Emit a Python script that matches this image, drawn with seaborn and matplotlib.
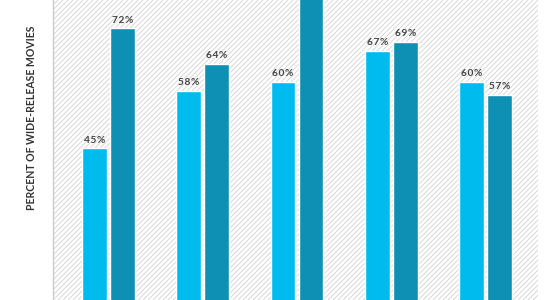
import matplotlib
matplotlib.use("Agg")
import matplotlib.pyplot as plt
import seaborn as sns
import pandas as pd
import numpy as np
from matplotlib.collections import LineCollection

categories = ["Group 1", "Group 2", "Group 3", "Group 4", "Group 5"]
series_a = [45, 58, 60, 67, 60]
series_b = [72, 64, 82, 69, 57]
series_names = ["Series A", "Series B"]
ylabel = "PERCENT OF WIDE-RELEASE MOVIES"

df = pd.DataFrame({
    "category": categories * 2,
    "value": series_a + series_b,
    "series": [series_names[0]] * len(categories) + [series_names[1]] * len(categories),
})

sns.set_theme(style="white")
plt.rcParams["font.family"] = ["Lato", "DejaVu Sans"]

W, H = 560, 300
fig = plt.figure(figsize=(W / 100, H / 100), dpi=100)
ax_left, ax_right = 53, 538
ax = fig.add_axes([ax_left / W, 0, (ax_right - ax_left) / W, 1])

# diagonal hatch background (decoration), 5 px spacing
aw, ah = ax_right - ax_left, H
step = 5.0
segs = []
for x0 in np.arange(-ah, aw + step, step):
    segs.append([(x0 / aw, 0), ((x0 + ah) / aw, 1)])
lc = LineCollection(segs, transform=ax.transAxes, colors="#d8d8d8",
                    linewidths=0.7, zorder=0)
ax.add_collection(lc, autolim=False)

light = "#00BBEE"
dark = "#0E8FB4"
sns.barplot(data=df, x="category", y="value", hue="series", hue_order=series_names,
            palette=[light, dark], saturation=1, width=0.594, gap=0.11,
            legend=False, ax=ax, zorder=2)

hs = "\u200a"
for cont in ax.containers:
    for rect in cont:
        h = rect.get_height()
        txt = hs.join(f"{h:.0f}%")
        ax.annotate(txt, (rect.get_x() + rect.get_width() / 2, h),
                    xytext=(0, 2.5), textcoords="offset points", ha="center",
                    va="bottom", fontsize=7.3, fontweight="bold", color="#444444",
                    annotation_clip=True, clip_on=True)

ax.set_xlim(-0.589, 4.557)
ax.set_ylim(10.8, 78.4)
ax.set_xlabel("")
ax.set_ylabel("")
ax.set_xticks([])
ax.set_yticks([])
for s in ["top", "right", "bottom"]:
    ax.spines[s].set_visible(False)
ax.spines["left"].set_color("#cccccc")
ax.spines["left"].set_linewidth(1)
ax.set_facecolor("white")

fig.text(31.5 / W, 1 - 118 / H, ylabel, rotation=90, ha="center", va="center",
         fontsize=7.6, fontweight="bold", color="#333333")

fig.savefig("out.png", dpi=100, facecolor="white")
